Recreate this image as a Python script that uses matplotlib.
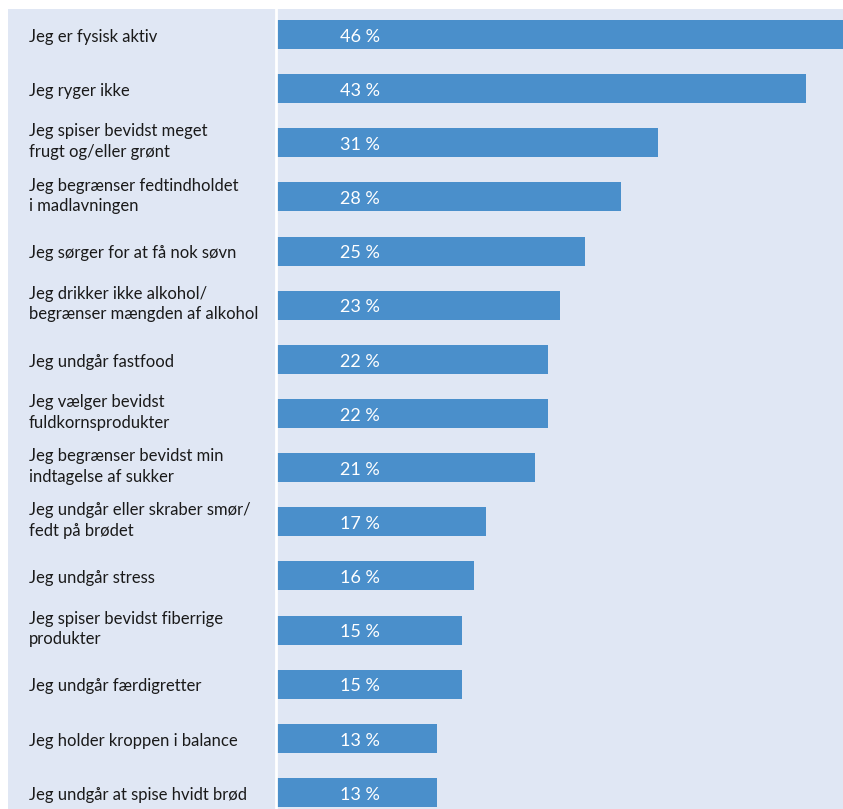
import numpy as np
import matplotlib.pyplot as plt

labels = [
    "Jeg er fysisk aktiv",
    "Jeg ryger ikke",
    "Jeg spiser bevidst meget\nfrugt og/eller grønt",
    "Jeg begrænser fedtindholdet\ni madlavningen",
    "Jeg sørger for at få nok søvn",
    "Jeg drikker ikke alkohol/\nbegrænser mængden af alkohol",
    "Jeg undgår fastfood",
    "Jeg vælger bevidst\nfuldkornsprodukter",
    "Jeg begrænser bevidst min\nindtagelse af sukker",
    "Jeg undgår eller skraber smør/\nfedt på brødet",
    "Jeg undgår stress",
    "Jeg spiser bevidst fiberrige\nprodukter",
    "Jeg undgår færdigretter",
    "Jeg holder kroppen i balance",
    "Jeg undgår at spise hvidt brød",
]
values = [46, 43, 31, 28, 25, 23, 22, 22, 21, 17, 16, 15, 15, 13, 13]

bg = "#e0e7f4"
bar_color = "#4a8fcb"
plt.rcParams['font.family'] = ['Lato', 'DejaVu Sans']

W, H = 843, 809
fig = plt.figure(figsize=(W / 100, H / 100), dpi=100)
fig.patch.set_facecolor("white")

# axes covers the shaded panel (x 8..843, y 9..809 px)
ax = fig.add_axes([8 / W, 0, (W - 8) / W, (H - 9) / H])
ax.set_facecolor(bg)
for s in ax.spines.values():
    s.set_visible(False)
ax.set_xticks([])
ax.set_yticks([])

px = 12.3  # px per percent
ax.set_xlim(-(277 - 8) / px, (W - 277) / px)
ax.set_ylim(len(values) - 1 + 16.5 / 54.14, -25.5 / 54.14)

y = np.arange(len(values))
ax.barh(y, values, height=0.535, color=bar_color, left=0)
ax.axvline(-0.1, color="white", lw=2)

for i, (lab, v) in enumerate(zip(labels, values)):
    off = 0.04 if "\n" not in lab else -0.02
    ax.text(-(277 - 29) / px, i + off, lab, ha="left", va="center",
            fontsize=12, color="#1a1a1a", linespacing=1.35)
    ax.text((380 - 277) / px, i + 0.04, f"{v} %", ha="right", va="center",
            fontsize=13, color="white")

fig.savefig("out.png", dpi=100)
